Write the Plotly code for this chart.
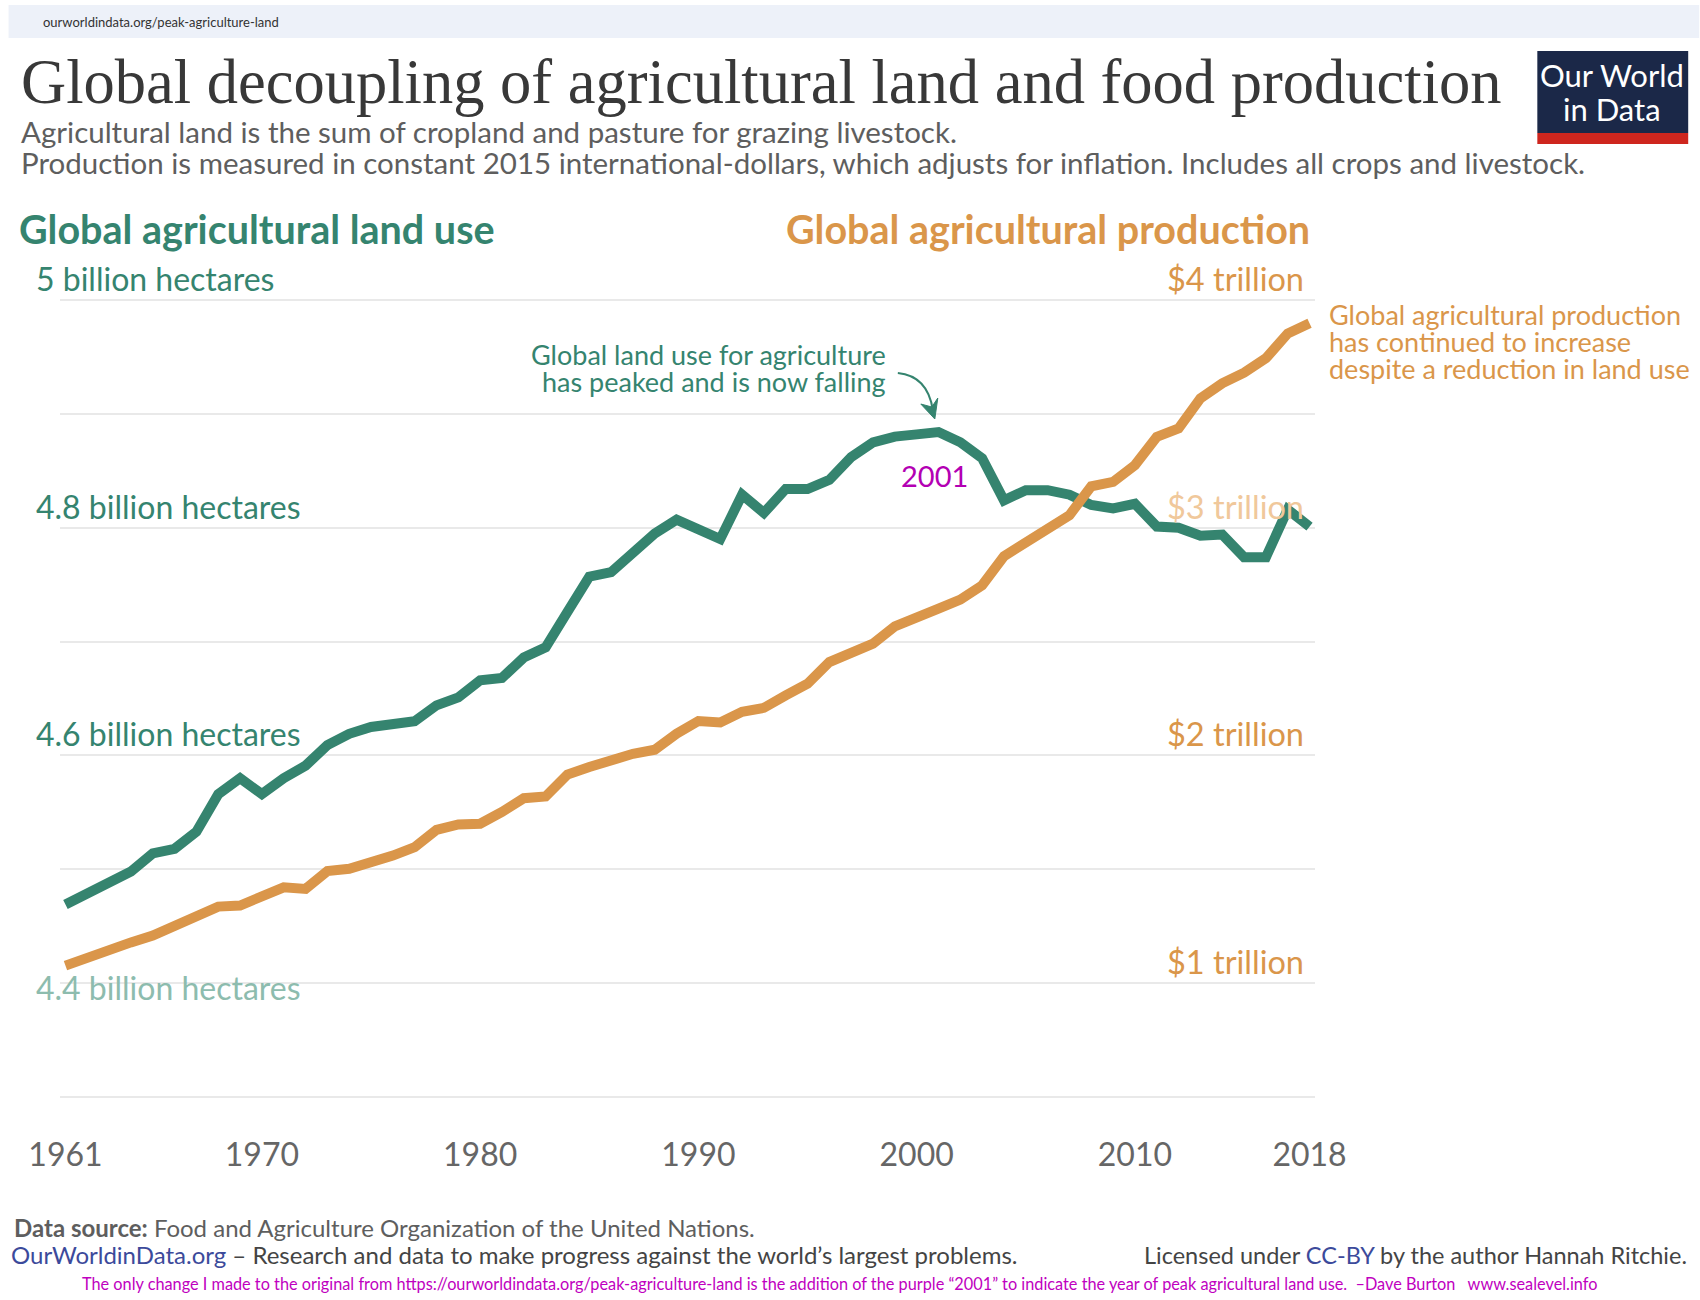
import plotly.graph_objects as go

# ---- data ----
years = [1961, 1962, 1963, 1964, 1965, 1966, 1967, 1968, 1969, 1970,
         1971, 1972, 1973, 1974, 1975, 1976, 1977, 1978, 1979, 1980,
         1981, 1982, 1983, 1984, 1985, 1986, 1987, 1988, 1989, 1990,
         1991, 1992, 1993, 1994, 1995, 1996, 1997, 1998, 1999, 2000,
         2001, 2002, 2003, 2004, 2005, 2006, 2007, 2008, 2009, 2010,
         2011, 2012, 2013, 2014, 2015, 2016, 2017, 2018]

# billion hectares
land_use = [4.469, 4.478, 4.489, 4.498, 4.514, 4.518, 4.533, 4.566, 4.580, 4.566,
            4.580, 4.591, 4.609, 4.619, 4.625, 4.627, 4.630, 4.644, 4.651, 4.666,
            4.668, 4.686, 4.695, 4.726, 4.757, 4.761, 4.777, 4.795, 4.807, 4.798,
            4.790, 4.829, 4.813, 4.834, 4.834, 4.842, 4.862, 4.875, 4.880, 4.882,
            4.884, 4.875, 4.861, 4.824, 4.833, 4.833, 4.829, 4.820, 4.817, 4.821,
            4.801, 4.800, 4.793, 4.794, 4.774, 4.774, 4.816, 4.801]

# trillion constant 2015 international-$
production = [1.077, 1.114, 1.143, 1.179, 1.209, 1.253, 1.300, 1.336, 1.341, 1.385,
              1.421, 1.414, 1.492, 1.502, 1.527, 1.560, 1.597, 1.673, 1.697, 1.700,
              1.752, 1.812, 1.820, 1.916, 1.949, 1.981, 2.007, 2.025, 2.095, 2.151,
              2.145, 2.192, 2.209, 2.264, 2.315, 2.410, 2.454, 2.491, 2.567, 2.612,
              2.645, 2.684, 2.747, 2.875, 2.938, 2.989, 3.055, 3.182, 3.201, 3.275,
              3.399, 3.436, 3.568, 3.634, 3.681, 3.744, 3.853, 3.898]

year_ticks = [1961, 1970, 1980, 1990, 2000, 2010, 2018]
land_ticks = [5.0, 4.8, 4.6, 4.4]
land_tick_text = ["5 billion hectares", "4.8 billion hectares", "4.6 billion hectares", "4.4 billion hectares"]
prod_ticks = [4, 3, 2, 1]
prod_tick_text = ["$4 trillion", "$3 trillion", "$2 trillion", "$1 trillion"]

GREEN = "#35846f"
ORANGE = "#da964a"
GREY = "#5e5e5e"
FONT = "Lato, 'Open Sans', sans-serif"

# page is 1700x1300; gridlines 5.0 / 4.3 sit at y=300 / y=1097
W, H = 1700, 1300
L0, R0 = 59.5, 1315.5
GT, GB = 300, 1097
PAD = 4  # px of slack so plotly keeps the edge gridlines
T0, B0 = GT - PAD, GB + PAD
upp = 0.7 / (GB - GT)  # billion ha per pixel


def px(x):
    return (x - L0) / (R0 - L0)


def py(y):
    return (B0 - y) / (B0 - T0)


fig = go.Figure()

fig.add_trace(go.Scatter(
    x=years, y=land_use, mode="lines", name="Global agricultural land use",
    line=dict(color=GREEN, width=10), yaxis="y",
    hovertemplate="%{x}: %{y:.3f} billion ha<extra></extra>"))

fig.add_trace(go.Scatter(
    x=years, y=production, mode="lines", name="Global agricultural production",
    line=dict(color=ORANGE, width=10), yaxis="y2",
    hovertemplate="%{x}: $%{y:.2f} trillion<extra></extra>"))

ann = []


def txt(x, y, text, size, color, xanchor="left", yanchor="middle", family=FONT, **kw):
    ann.append(dict(x=px(x), y=py(y), xref="paper", yref="paper", text=text,
                    showarrow=False, xanchor=xanchor, yanchor=yanchor,
                    font=dict(family=family, size=size, color=color), **kw))


# header
txt(40, 22, "ourworldindata.org/peak-agriculture-land", 13, "#333333")
txt(18, 82, "Global decoupling of agricultural land and food production", 62.5, "#383838",
    family="'Liberation Serif', 'DejaVu Serif', serif")
txt(18, 132, "Agricultural land is the sum of cropland and pasture for grazing livestock.", 29.5, GREY)
txt(18, 162, "Production is measured in constant 2015 international-dollars, which adjusts for inflation. "
    "Includes all crops and livestock.", 29.5, GREY)
txt(16, 229, "<b>Global agricultural land use</b>", 39.5, GREEN)
txt(1312, 229, "<b>Global agricultural production</b>", 39.5, ORANGE, xanchor="right")

# logo
txt(1613, 75, "Our World", 31, "white", xanchor="center")
txt(1613, 109, "in Data", 31, "white", xanchor="center")

# axis value labels, sat on top of their gridlines
land_colors = [GREEN, GREEN, GREEN, "#8dbcae"]
for v, t, c in zip(land_ticks, land_tick_text, land_colors):
    ann.append(dict(x=px(33), y=v, xref="paper", yref="y", text=t, showarrow=False,
                    xanchor="left", yanchor="middle" if v == 4.4 else "bottom",
                    yshift=-4 if v == 4.4 else 0,
                    font=dict(family=FONT, size=32, color=c)))
prod_colors = [ORANGE, "#f0c89b", ORANGE, ORANGE]
for v, t, c in zip(prod_ticks, prod_tick_text, prod_colors):
    ann.append(dict(x=px(1306), y=v, xref="paper", yref="y2", text=t, showarrow=False,
                    xanchor="right", yanchor="bottom",
                    font=dict(family=FONT, size=32.5, color=c)))

# annotations
txt(888, 354, "Global land use for agriculture", 27, GREEN, xanchor="right")
txt(888, 381, "has peaked and is now falling", 27, GREEN, xanchor="right")
txt(935, 475, "2001", 29, "#b300b3", xanchor="center")
txt(1328, 314, "Global agricultural production", 27, ORANGE)
txt(1328, 341, "has continued to increase", 27, ORANGE)
txt(1328, 368, "despite a reduction in land use", 27, ORANGE)

# footer
txt(11, 1227, "<b>Data source:</b> Food and Agriculture Organization of the United Nations.", 24, GREY)
txt(8, 1254, "<span style='color:#3c4a9b'>OurWorldinData.org</span> – Research and data to make "
    "progress against the world’s largest problems.", 24, "#444444")
txt(1690, 1255, "Licensed under <span style='color:#3c4a9b'>CC-BY</span> by the author Hannah Ritchie.",
    23.5, "#444444", xanchor="right")
txt(840, 1283, "The only change I made to the original from https://ourworldindata.org/peak-agriculture-land "
    "is the addition of the purple “2001” to indicate the year of peak agricultural land use.  "
    "–Dave Burton   www.sealevel.info", 16.3, "#c000c0", xanchor="center")

shapes = [
    # browser address bar
    dict(type="rect", xref="paper", yref="paper", x0=px(8), x1=px(1700), y0=py(5), y1=py(38),
         fillcolor="#edf1f9", line=dict(width=0), layer="below"),
    # logo
    dict(type="rect", xref="paper", yref="paper", x0=px(1538), x1=px(1689), y0=py(51), y1=py(133),
         fillcolor="#1b2848", line=dict(width=0)),
    dict(type="rect", xref="paper", yref="paper", x0=px(1538), x1=px(1689), y0=py(133), y1=py(144),
         fillcolor="#ce261e", line=dict(width=0)),
    # curved arrow towards the peak
    dict(type="path", xref="paper", yref="paper",
         path=f"M {px(898)},{py(373)} Q {px(928)},{py(376)} {px(933)},{py(410)}",
         line=dict(color=GREEN, width=2)),
    dict(type="path", xref="paper", yref="paper",
         path=f"M {px(935)},{py(419)} L {px(921)},{py(404)} L {px(932)},{py(407)} "
              f"L {px(938)},{py(398)} Z",
         fillcolor=GREEN, line=dict(color=GREEN, width=1)),
]

fig.update_layout(
    width=W, height=H, autosize=False,
    margin=dict(l=L0, r=W - R0, t=T0, b=H - B0, pad=0),
    paper_bgcolor="white", plot_bgcolor="white",
    showlegend=False,
    xaxis=dict(range=[1960.75, 2018.25], tickvals=year_ticks, ticktext=[str(y) for y in year_ticks],
               showgrid=False, zeroline=False, showline=False,
               ticks="outside", ticklen=26, tickcolor="rgba(0,0,0,0)",
               tickfont=dict(family=FONT, size=32, color="#666666")),
    yaxis=dict(range=[4.3 - PAD * upp, 5.0 + PAD * upp], tick0=4.3, dtick=0.1, showticklabels=False,
               showgrid=True, gridcolor="#e9e9e9", gridwidth=1.5, zeroline=False, showline=False),
    yaxis2=dict(range=[0.5 - 5 * PAD * upp, 4.0 + 5 * PAD * upp], overlaying="y", side="right",
                showticklabels=False, showgrid=False, zeroline=False, showline=False),
    annotations=ann,
    shapes=shapes,
)

fig.write_html("out.html", config={"displayModeBar": False},
               post_script="document.body.style.margin='0';")
